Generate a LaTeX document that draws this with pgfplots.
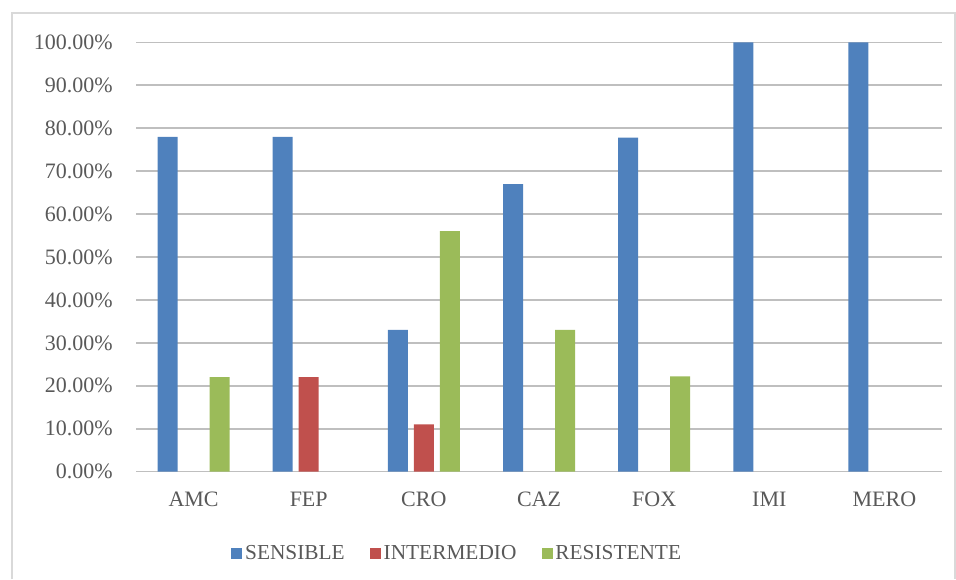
\documentclass[border=0pt]{standalone}
\usepackage{pgfplots}
\pgfplotsset{compat=1.18}
\usepackage{fontspec}
\setmainfont{Liberation Serif}
\definecolor{cblue}{HTML}{4F81BD}
\definecolor{cred}{HTML}{C0504D}
\definecolor{cgreen}{HTML}{9BBB59}
\definecolor{grid}{HTML}{D9D9D9}
\definecolor{txt}{HTML}{595959}
\begin{document}
\begin{tikzpicture}[x=1pt,y=1pt]
\path[use as bounding box] (0,0) rectangle (717,434.25);
\draw[grid, line width=1pt] (9,0) -- (9,424.5) -- (716.25,424.5) -- (716.25,0);
\begin{axis}[
  at={(102pt,80.5pt)}, anchor=south west,
  scale only axis, width=604.5pt, height=322pt,
  xmin=-0.5, xmax=6.5, ymin=0, ymax=100,
  ybar, bar width=15pt,
  axis line style={draw=none},
  ymajorgrids, xmajorgrids=false, grid style={grid, line width=1.2pt},
  ytick={0,10,...,100},
  xtick={0,...,6}, xticklabels={AMC,FEP,CRO,CAZ,FOX,IMI,MERO},
  major tick length=0pt, tick style={draw=none},
  tick label style={font=\fontsize{16.5}{19}\selectfont, text=txt},
  /pgf/number format/assume math mode=true,
  yticklabel={\pgfmathprintnumber[fixed,fixed zerofill,precision=2]{\tick}\%},
  yticklabel style={xshift=-14pt},
  xticklabel style={yshift=-12pt},
  legend style={at={(0.399,-0.19)}, anchor=center, draw=none, fill=none,
    font=\fontsize{16}{19}\selectfont, text=txt, legend columns=3,
    /tikz/every even column/.append style={column sep=17pt}},
  legend image code/.code={\fill[#1] (0pt,-4.125pt) rectangle (8.25pt,4.125pt);},
]
\addplot[fill=cblue, draw=none, bar shift=-19.5pt] coordinates {(0,78) (1,78) (2,33) (3,67) (4,77.8) (5,100) (6,100)};
\addplot[fill=cred, draw=none, bar shift=0pt] coordinates {(1,22) (2,11)};
\addplot[fill=cgreen, draw=none, bar shift=19.5pt] coordinates {(0,22) (2,56) (3,33) (4,22.2)};
\legend{SENSIBLE,INTERMEDIO,RESISTENTE}
\end{axis}
\end{tikzpicture}
\end{document}
